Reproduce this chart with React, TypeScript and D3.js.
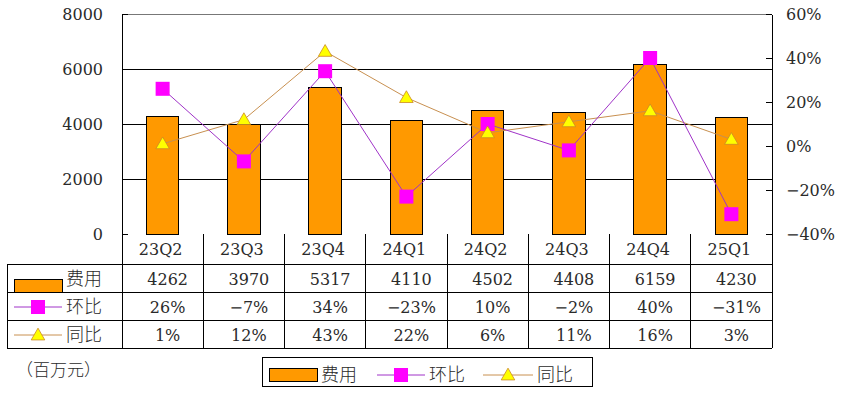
import * as d3 from "d3";
import { useEffect, useRef } from "react";

const categories = ["23Q2", "23Q3", "23Q4", "24Q1", "24Q2", "24Q3", "24Q4", "25Q1"];
const costs = [4262, 3970, 5317, 4110, 4502, 4408, 6159, 4230];
const qoq = [26, -7, 34, -23, 10, -2, 40, -31];
const yoy = [1, 12, 43, 22, 6, 11, 16, 3];
const leftTicks = [0, 2000, 4000, 6000, 8000];
const rightTicks = [-40, -20, 0, 20, 40, 60];
const seriesNames = ["费用", "环比", "同比"];
const unitLabel = "（百万元）";

const W = 852;
const H = 398;
const plotLeft = 122;
const plotRight = 772;
const plotTop = 14;
const plotBottom = 234;
const rowH = 28;
const tableLeft = 7;

const NUM_FONT = "'DejaVu Serif', serif";
const CJK_FONT = "'Noto Sans CJK SC', sans-serif";
const TEXT_COLOR = "#2a2a2a";
const BAR_COLOR = "#ff9900";
const SQ_COLOR = "#ff00ff";
const SQ_LINE = "#a033c8";
const TRI_COLOR = "#ffff00";
const TRI_LINE = "#c89050";

const pct = (v: number) => (v < 0 ? "−" + Math.abs(v) : `${v}`) + "%";

export default function App() {
    const svgRef = useRef<SVGSVGElement>(null);

    useEffect(() => {
        if (svgRef.current) {
            drawChart();
        }
    }, [svgRef]);

    const drawChart = () => {
        const svg = d3.select(svgRef.current);
        svg.selectAll("*").remove();

        const xCol = d3.scaleBand<string>().domain(categories).range([plotLeft, plotRight]).padding(0);
        const xBar = d3
            .scaleBand<string>()
            .domain(categories)
            .range([plotLeft, plotRight])
            .paddingInner(0.6)
            .paddingOuter(0.3);
        const yL = d3.scaleLinear().domain([0, 8000]).range([plotBottom, plotTop]);
        const yR = d3.scaleLinear().domain([-40, 60]).range([plotBottom, plotTop]);
        const cx = (c: string) => (xCol(c) as number) + xCol.bandwidth() / 2;

        // grid lines
        svg.append("g")
            .selectAll("line")
            .data(leftTicks.filter((t) => t > 0))
            .join("line")
            .attr("x1", plotLeft)
            .attr("x2", plotRight)
            .attr("y1", (d) => yL(d))
            .attr("y2", (d) => yL(d))
            .attr("stroke", (d) => (d === 8000 ? "#777" : "#000"))
            .attr("stroke-width", 1)
            .attr("shape-rendering", "crispEdges");

        // bars
        svg.append("g")
            .selectAll("rect")
            .data(costs)
            .join("rect")
            .attr("x", (d, i) => xBar(categories[i]) as number)
            .attr("y", (d) => yL(d))
            .attr("width", xBar.bandwidth())
            .attr("height", (d) => yL(0) - yL(d))
            .attr("fill", BAR_COLOR)
            .attr("stroke", "#000")
            .attr("stroke-width", 1)
            .attr("shape-rendering", "crispEdges");

        // axes
        const gl = svg
            .append("g")
            .attr("transform", `translate(${plotLeft},0)`)
            .call(d3.axisLeft(yL).tickValues(leftTicks).tickSizeInner(-6).tickSizeOuter(0).tickPadding(19).tickFormat((d) => `${d}`));
        const gr = svg
            .append("g")
            .attr("transform", `translate(${plotRight},0)`)
            .call(d3.axisRight(yR).tickValues(rightTicks).tickSizeInner(-6).tickSizeOuter(0).tickPadding(14).tickFormat((d) => pct(d as number)));
        [gl, gr].forEach((g) => {
            g.select(".domain").attr("stroke", "#000").attr("shape-rendering", "crispEdges");
            g.selectAll(".tick line").attr("stroke", "#000").attr("shape-rendering", "crispEdges");
            g.selectAll(".tick text").attr("font-family", NUM_FONT).attr("font-size", 16).attr("fill", TEXT_COLOR);
        });

        // lines
        const lineGen = d3
            .line<number>()
            .x((d, i) => cx(categories[i]))
            .y((d) => yR(d));
        svg.append("path").datum(yoy).attr("d", lineGen).attr("fill", "none").attr("stroke", TRI_LINE).attr("stroke-width", 1);
        svg.append("path").datum(qoq).attr("d", lineGen).attr("fill", "none").attr("stroke", SQ_LINE).attr("stroke-width", 1);

        const sq = 14;
        const tri = d3.symbol(d3.symbolTriangle, 80);
        svg.append("g")
            .selectAll("rect")
            .data(qoq)
            .join("rect")
            .attr("x", (d, i) => cx(categories[i]) - sq / 2)
            .attr("y", (d) => yR(d) - sq / 2)
            .attr("width", sq)
            .attr("height", sq)
            .attr("fill", SQ_COLOR);
        svg.append("g")
            .selectAll("path")
            .data(yoy)
            .join("path")
            .attr("d", tri)
            .attr("transform", (d, i) => `translate(${cx(categories[i])},${yR(d) + 1})`)
            .attr("fill", TRI_COLOR)
            .attr("stroke", "#cc8822")
            .attr("stroke-width", 0.8);

        // data table
        const table = svg.append("g").attr("shape-rendering", "crispEdges").attr("stroke", "#000");
        const rowTop = (r: number) => plotBottom + rowH * (r + 1) + 2;
        [0, 1, 2, 3].forEach((r) => {
            table.append("line").attr("x1", tableLeft).attr("x2", plotRight).attr("y1", rowTop(r)).attr("y2", rowTop(r));
        });
        table.append("line").attr("x1", tableLeft).attr("x2", tableLeft).attr("y1", rowTop(0)).attr("y2", rowTop(3));
        const colEdges = categories.map((c) => xCol(c) as number).concat([plotRight]);
        table
            .selectAll(".col")
            .data(colEdges)
            .join("line")
            .attr("x1", (d) => d)
            .attr("x2", (d) => d)
            .attr("y1", plotBottom)
            .attr("y2", rowTop(3));

        const txt = svg.append("g").attr("font-family", NUM_FONT).attr("font-size", 16).attr("fill", TEXT_COLOR).attr("text-anchor", "middle");
        txt.selectAll(".cat")
            .data(categories)
            .join("text")
            .attr("x", (d) => cx(d) - 2)
            .attr("y", (plotBottom + rowTop(0)) / 2)
            .attr("dy", "0.35em")
            .text((d) => d);
        const rows = [costs.map((v) => `${v}`), qoq.map(pct), yoy.map(pct)];
        rows.forEach((vals, r) => {
            txt.selectAll(`.r${r}`)
                .data(vals)
                .join("text")
                .attr("x", (d, i) => cx(categories[i]) + 5)
                .attr("y", rowTop(r) + rowH / 2 + 1)
                .attr("dy", "0.35em")
                .text((d) => d);
        });

        // legend keys
        const keyL = 14;
        const keyR = 62;
        const drawKey = (g: any, i: number, x0: number, x1: number, yc: number, rectTop: number) => {
            const xc = (x0 + x1) / 2;
            if (i === 0) {
                g.append("rect")
                    .attr("x", x0)
                    .attr("y", rectTop)
                    .attr("width", x1 - x0)
                    .attr("height", 13)
                    .attr("fill", BAR_COLOR)
                    .attr("stroke", "#000")
                    .attr("shape-rendering", "crispEdges");
            } else if (i === 1) {
                g.append("line").attr("x1", x0).attr("x2", x1).attr("y1", yc).attr("y2", yc).attr("stroke", SQ_LINE);
                g.append("rect").attr("x", xc - 7).attr("y", yc - 7).attr("width", 14).attr("height", 14).attr("fill", SQ_COLOR);
            } else {
                g.append("line").attr("x1", x0).attr("x2", x1).attr("y1", yc).attr("y2", yc).attr("stroke", TRI_LINE);
                g.append("path")
                    .attr("d", tri)
                    .attr("transform", `translate(${xc},${yc + 1})`)
                    .attr("fill", TRI_COLOR)
                    .attr("stroke", "#cc8822")
                    .attr("stroke-width", 0.8);
            }
        };
        const keys = svg.append("g");
        seriesNames.forEach((name, i) => {
            const yc = rowTop(i) + rowH / 2 + 1;
            drawKey(keys, i, keyL, keyR, yc, rowTop(i) + 15);
            keys.append("text")
                .attr("x", keyR + 4)
                .attr("y", yc)
                .attr("dy", "0.36em")
                .attr("font-family", CJK_FONT)
                .attr("font-weight", 300)
                .attr("font-size", 18)
                .attr("fill", TEXT_COLOR)
                .text(name);
        });

        // unit label
        svg.append("text")
            .attr("x", 16)
            .attr("y", 370)
            .attr("dy", "0.36em")
            .attr("font-family", CJK_FONT)
            .attr("font-weight", 300)
            .attr("font-size", 17)
            .attr("fill", TEXT_COLOR)
            .text(unitLabel);

        // bottom legend
        const lg = svg.append("g");
        lg.append("rect")
            .attr("x", 262)
            .attr("y", 357)
            .attr("width", 330)
            .attr("height", 29)
            .attr("fill", "#fff")
            .attr("stroke", "#000")
            .attr("shape-rendering", "crispEdges");
        const legX = [[269, 317], [377, 425], [483, 533]];
        const legY = 375;
        seriesNames.forEach((name, i) => {
            drawKey(lg, i, legX[i][0], legX[i][1], legY, 368);
            lg.append("text")
                .attr("x", legX[i][1] + 4)
                .attr("y", legY)
                .attr("dy", "0.36em")
                .attr("font-family", CJK_FONT)
                .attr("font-weight", 300)
                .attr("font-size", 18)
                .attr("fill", TEXT_COLOR)
                .text(name);
        });
    };

    return (
        <svg
            ref={svgRef}
            width={W}
            height={H}
            style={{ position: "absolute", left: 0, top: 0, background: "#fff" }}
        />
    );
}
